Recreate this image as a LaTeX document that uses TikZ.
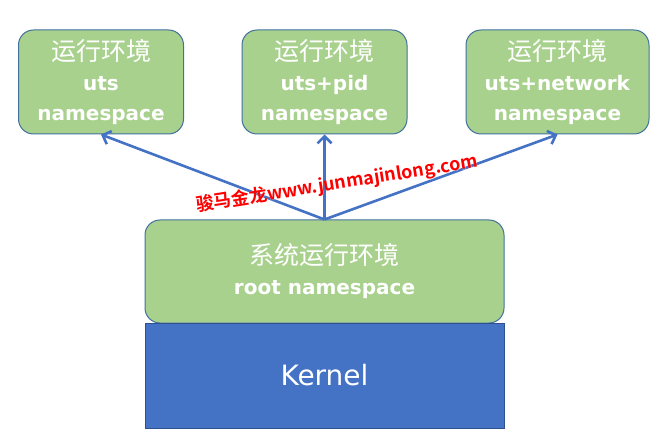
\documentclass[tikz,border=0pt]{standalone}
\usepackage{fontspec}
\setmainfont{DejaVu Sans}
\newfontfamily\cjk{Noto Sans CJK SC}
\newfontfamily\cjkb{Noto Sans CJK SC Bold}
\usetikzlibrary{arrows.meta}
\definecolor{boxgreen}{HTML}{A9D18E}
\definecolor{boxline}{HTML}{41719C}
\definecolor{kernfill}{HTML}{4472C4}
\definecolor{kernline}{HTML}{2F528F}
\definecolor{arrowblue}{HTML}{4472C4}
\definecolor{wmred}{HTML}{FF0000}
\newcommand{\haloon}{\special{pdf:literal direct 1 1 1 RG 0.17 w 1 j 1 Tr}}
\newcommand{\halooff}{\special{pdf:literal direct 0 Tr}}
\begin{document}
\begin{tikzpicture}[x=1pt,y=-1pt,
  nsbox/.style={draw=boxline, line width=1pt, fill=boxgreen, rounded corners=15pt,
    text=white, align=center, inner sep=0pt, minimum height=104pt,
    font=\fontsize{20}{30}\selectfont},
  kernbox/.style={draw=kernline, line width=1pt, fill=kernfill, text=white,
    inner sep=0pt, minimum width=359pt, minimum height=105pt,
    font=\fontsize{28}{32}\selectfont},
  link/.style={draw=arrowblue, line width=2.6pt, -{Straight Barb[length=7pt,width=14pt,line width=2.6pt]}},
  wmark/.style={rotate=9, font=\cjkb\fontsize{18}{20}\selectfont, inner sep=0pt}
]
\useasboundingbox (0,0) rectangle (663,446);
\fill[white] (0,0) rectangle (663,446);

\node[nsbox, minimum width=165pt] (b1) at (101,82)
  {{\cjk\fontsize{25}{30}\selectfont 运行环境}\\\textbf{uts}\\\textbf{namespace}};
\node[nsbox, minimum width=165pt] (b2) at (324.5,82)
  {{\cjk\fontsize{25}{30}\selectfont 运行环境}\\\textbf{uts+pid}\\\textbf{namespace}};
\node[nsbox, minimum width=183pt] (b3) at (557.5,82)
  {{\cjk\fontsize{25}{30}\selectfont 运行环境}\\\textbf{uts+network}\\\textbf{namespace}};

\node[nsbox, minimum width=359pt, minimum height=103pt] (root) at (324.5,271.5)
  {{\cjk\fontsize{25}{32}\selectfont 系统运行环境}\\\textbf{root namespace}};
\node[kernbox] (kern) at (324.5,375.5) {Kernel};

\draw[link] (root.north) -- (b1.south);
\draw[link] (root.north) -- (b2.south);
\draw[link] (root.north) -- (b3.south);

\node[wmark, text=white] (wmhalo) at (337,184) {\haloon 骏马金龙www.junmajinlong.com\halooff};
\node[wmark, text=wmred] (wm) at (337,184) {骏马金龙www.junmajinlong.com};
\end{tikzpicture}
\end{document}
